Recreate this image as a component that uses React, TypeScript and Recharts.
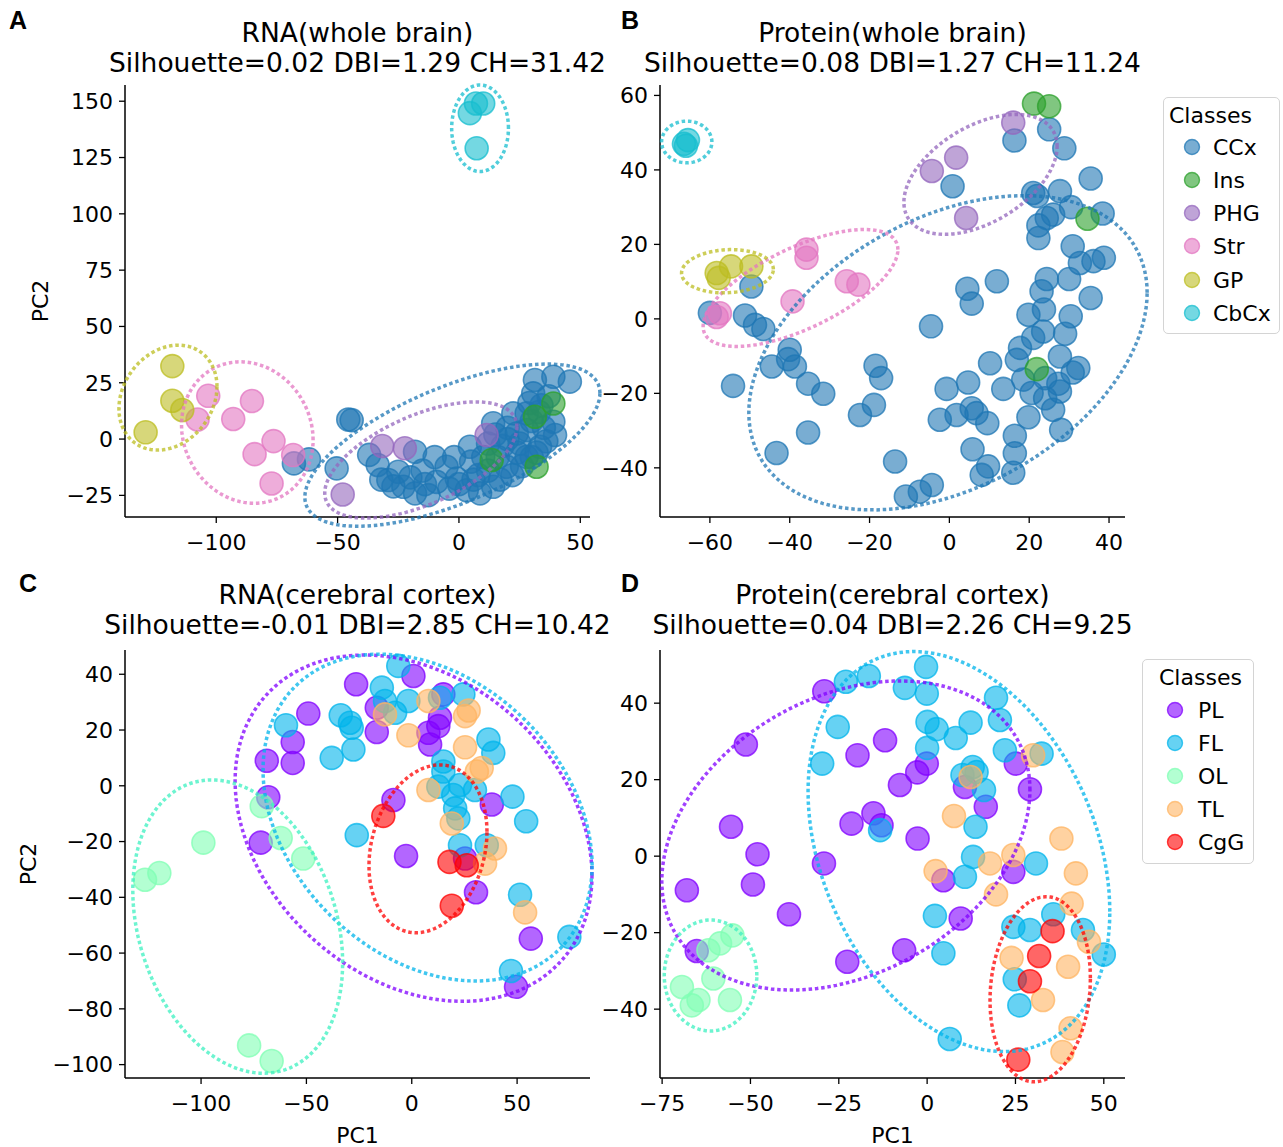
import React from "react";
import { Scatter, ScatterChart, XAxis, YAxis } from "recharts";

type Pt = [number, number];
type Ell = { cx: number; cy: number; rx: number; ry: number; s: number };

// ---- Panel A: RNA (whole brain) ----
const aCCx: Pt[] = [
  [-45.6, 8.7], [-44.2, 8.4], [-68.0, -10.8], [-61.8, -9.0], [-50.4, -13.0],
  [-33.5, -11.5], [-18.1, -5.6], [-29.1, -18.2], [-25, -14.5], [-22.9, -21.2],
  [-18.1, -24.1], [-12.6, -24.9], [-9.2, -19], [-5.1, -12.3], [-0.9, -17.5],
  [4.5, -3.4], [3.2, -22.7], [8.7, -24.1], [14.1, -21.2], [14.1, 7.0],
  [19.7, -12.3], [22.4, 11.4], [27.9, 11.4], [30.6, 20.3], [31.3, 26.2],
  [38.9, 27.7], [45.7, 25.5], [38.9, 7.7], [39.6, 1.8], [33.4, -3.4],
  [27.9, -7.9], [23.8, 2.5], [18, -3], [20, 5], [25, -2], [28, 4], [30, 8],
  [33, 12], [35, 5], [36, -1], [26, -12], [22, -16], [17, -18], [12, -14],
  [10, -8], [8, -16], [0, -20], [-4, -22], [-14, -20], [-20, -17], [-27, -21],
  [-37, -7], [-10, -8], [5, -10], [16, -8], [24, -6], [30, -8], [34, 15],
  [29, 16], [37, 19], [32, -6], [20, 0], [15, 2], [12, -2], [-2, -8],
  [-15, -14], [-32, -18], [6, -18],
];
const aIns: Pt[] = [[38.9, 15.8], [31.3, 9.9], [13.5, -9.3], [32, -12.3]];
const aPHG: Pt[] = [[-47.9, -24.6], [-31.6, -3.1], [-22.3, -4.1], [11.4, 1.8]];
const aStr: Pt[] = [
  [-103.3, 19.2], [-107.7, 8.7], [-93.0, 8.9], [-85.3, 16.9],
  [-76.4, -0.9], [-84.2, -6.7], [-68.3, -7.1], [-77.2, -19.7],
];
const aGP: Pt[] = [[-118.1, 32.4], [-118.1, 17.0], [-114.0, 12.9], [-129.1, 3.0]];
const aCbCx: Pt[] = [[4.5, 144.7], [7, 149], [10, 149], [7.3, 129.1]];
const aEll: Ell[] = [
  { cx: -2.7, cy: -2.7, rx: 60.8, ry: 36.0, s: 23.1 },
  { cx: -15.7, cy: -9.3, rx: 39.6, ry: 25.8, s: 14.7 },
  { cx: -87.2, cy: 2.9, rx: 27.1, ry: 31.4, s: -3.3 },
  { cx: -119.9, cy: 18.4, rx: 20.2, ry: 23.3, s: 4.9 },
  { cx: 8.7, cy: 138.0, rx: 11.7, ry: 19.2, s: 0 },
];

// ---- Panel B: Protein (whole brain) ----
const bCCx: Pt[] = [
  [-60, 1.6], [-49.6, 8.7], [-51.2, 0.9], [-48.7, -1.6], [-46.6, -2.7],
  [-54.2, -18], [-44.5, -12.8], [-40, -8.3], [-40.4, -10.8], [-38.7, -12.8],
  [-35.4, -17.4], [-31.6, -20.1], [-35.4, -30.5], [-43.3, -36], [-22.4, -25.8],
  [-18.9, -23.1], [-18.5, -12.6], [-17.1, -15.9], [-13.6, -38.3],
  [25, 50.9], [16.3, 47.9], [28.8, 45.8], [0.8, 35.6], [35.4, 37.7], [21, 33.8],
  [22, 33], [27.7, 34.3], [30.5, 30], [26, 28], [24.4, 27.1], [38.4, 28.3],
  [22.3, 25.1], [22.3, 21.7], [30.9, 19.5], [32.7, 15], [36.1, 15.5], [38.7, 16.4],
  [24.4, 10.7], [30, 10.7], [23.1, 7.4], [35.4, 5.6], [11.9, 10.1], [4.5, 8.1],
  [5.6, 4.1], [-4.6, -2], [19.8, 1.1], [23.7, 2.5], [30.4, 0.7], [21, -5.1],
  [23.5, -3.4], [29, -4], [17.7, -7.8], [27.7, -10.1], [10.2, -11.9], [16.9, -11],
  [32.3, -13.2], [30.9, -14.4], [18.5, -16.3], [24, -15.9], [27.3, -17.4],
  [-0.7, -18.8], [4.7, -17.1], [13.5, -18.8], [20.6, -19.9], [24, -21.3],
  [27.7, -19.5], [26, -24.4], [19.8, -26.4], [5.6, -24], [6.8, -25.3], [9.5, -28],
  [1.8, -25.8], [-2.4, -27.1], [16.4, -31.4], [16.4, -36.1], [28, -29.8],
  [5.8, -35], [9.7, -39.6], [8.1, -41.9], [16, -41.3], [-4.4, -44.6],
  [-7.4, -46.4], [-10.9, -47.7],
];
const bIns: Pt[] = [[21.2, 57.8], [25, 57.1], [34.6, 26.9], [21.9, -13.5]];
const bPHG: Pt[] = [[16, 52.7], [-4.4, 39.7], [1.7, 43.3], [4.2, 27.1]];
const bStr: Pt[] = [
  [-35.8, 18.6], [-35.8, 16.4], [-39.3, 4.7], [-25.7, 10.1], [-22.8, 9.2],
  [-58.3, 0.5], [-57.5, 1.5],
];
const bGP: Pt[] = [[-58.3, 12.3], [-57.8, 11], [-54.7, 14.1], [-49.6, 14.1]];
const bCbCx: Pt[] = [[-66.5, 47], [-65.5, 48], [-66, 46.5]];
const bEll: Ell[] = [
  { cx: -0.35, cy: -9.1, rx: 49.9, ry: 42.2, s: 16.1 },
  { cx: 7.8, cy: 38.8, rx: 19.2, ry: 16.1, s: 7.5 },
  { cx: -37.3, cy: 8.3, rx: 24.4, ry: 15.7, s: 10.3 },
  { cx: -55.6, cy: 12.8, rx: 11.5, ry: 5.8, s: 0.5 },
  { cx: -65.8, cy: 47.5, rx: 6.3, ry: 5.6, s: 0 },
];

// ---- Panel C: RNA (cerebral cortex) ----
const cPL: Pt[] = [
  [-26.4, 36.4], [-49.1, 25.9], [-56.5, 15.7], [-56.5, 8.2], [-68.8, 9.0],
  [-68.1, -4.1], [-71.7, -20.4], [0.8, 39.4], [-16.6, 28], [-16.6, 19.3],
  [13.4, 24.4], [7.9, 19], [8.7, 14.8], [-8.7, -5.1], [38, -6.7], [-2.7, -25.2],
  [25.3, -26.1], [30.5, -38.2], [56.5, -54.8], [49.5, -72.1], [15, 32.8], [12.6, 21.4],
];
const cFL: Pt[] = [
  [-59.7, 21.7], [-38, 10], [-33.7, 25.3], [-28.5, 20.8], [-27.7, 13], [-26.1, -17.7],
  [-6.4, 43], [-14.2, 35.2], [-12.7, 30.4], [-7.9, 26.2], [-1.6, 30.4], [-29.3, 22.6],
  [13.4, 31.6], [24.5, 32.8], [36.4, 16.6], [38.7, 11.8], [15, 8.7], [15, 5.1],
  [12.6, -0.3], [22.9, 0.3], [30, -1.5], [19.7, -3.3], [20.6, -8.1], [22.1, -11.7],
  [47.8, -3.9], [54.3, -12.7], [22.9, -21.3], [35.6, -21.3], [51.4, -39.1],
  [74.8, -54.2], [47.1, -66.4],
];
const cOL: Pt[] = [
  [-98.9, -20.4], [-126.6, -33.7], [-119.8, -31.3], [-71.2, -7.3], [-62.2, -18.7],
  [-51.5, -26.1], [-77.2, -93.1], [-66.5, -98.7],
];
const cTL: Pt[] = [
  [-12.7, 25.6], [-1.6, 18.1], [7.9, 30.4], [25.3, 25], [27, 27], [25.3, 13.8],
  [33.2, 6.4], [30.9, 5.1], [7.9, -1.5], [19, -13.5], [39.5, -22.5], [34.8, -27.9],
  [53.8, -45.4],
];
const cCgG: Pt[] = [[-13.5, -10.8], [17.9, -27.3], [26.1, -28.5], [19, -43]];
const cEll: Ell[] = [
  { cx: 0.85, cy: -15.2, rx: 84.7, ry: 62.1, s: -17.0 },
  { cx: 7.5, cy: -11.4, rx: 78.1, ry: 58.6, s: -17.1 },
  { cx: -82.6, cy: -50.5, rx: 49.8, ry: 52.6, s: -13.0 },
  { cx: 7.7, cy: -22.6, rx: 28.0, ry: 30.1, s: 6.1 },
];

// ---- Panel D: Protein (cerebral cortex) ----
const dPL: Pt[] = [
  [-29.1, 43.1], [-51.3, 29.2], [-55.5, 7.7], [-48, 0.5], [-49.3, -7.4], [-68, -8.9],
  [-39.1, -15.2], [-65.2, -24.8], [-22.6, -27.6], [-29.2, -1.9], [-19.7, 26.4],
  [-11.9, 30.3], [-21.4, 8.5], [-15.2, 11.2], [-12.9, 8.1], [-7.7, 18.6], [-2.8, 21.9],
  [-0.1, 24.2], [10.7, 18.1], [16.6, 12.9], [25.1, 24.2], [29.1, 17.5], [-2.7, 4.6],
  [4.6, -6.3], [24.4, -4.1], [9.5, -16.3], [-6.5, -24.6],
];
const dFL: Pt[] = [
  [-23, 45.6], [-16.5, 47.1], [-25.3, 33.8], [-29.7, 24.2], [-13.3, 6.8], [-0.3, 49.5],
  [-6.3, 44], [-0.1, 42.5], [19.5, 41.4], [20.6, 35.6], [0.1, 35.1], [2.7, 33.2],
  [8.1, 30.9], [12.3, 34.9], [0, 28.3], [22, 27.7], [32.4, 26.8], [12.9, 23.3],
  [14, 22], [10, 21.2], [16.1, 17.3], [13.7, 7.7], [13, -0.2], [10.7, -5.4],
  [30.8, -1.9], [2.2, -15.6], [4.6, -25.4], [35.7, -15.2], [24.4, -18.5],
  [29.1, -19.3], [44.1, -19.3], [50, -25.7], [24.8, -32.2], [26.1, -39], [6.4, -47.8],
];
const dOL: Pt[] = [
  [-58.6, -22.8], [-55.1, -20.7], [-60.5, -32], [-69.4, -34.2], [-64.7, -37.6],
  [-66.6, -39], [-55.8, -37.6], [-61.9, -24.6],
];
const dTL: Pt[] = [
  [7.6, 10.5], [38, 4.6], [2.4, -3.9], [17.8, -1.9], [24.4, 0.3], [42.1, -4.5],
  [19.5, -10], [40.9, -12.4], [30, 26.4], [45.8, -22.4], [23.9, -26.6], [39.9, -28.9],
  [32.8, -37.6], [40.6, -45], [38.3, -51.2], [12.3, 20.7],
];
const dCgG: Pt[] = [[35.5, -19.6], [31.7, -26.1], [29.1, -32.7], [25.8, -53.2]];
const dEll: Ell[] = [
  { cx: -23.0, cy: 5.4, rx: 52.1, ry: 40.4, s: 11.9 },
  { cx: 9.0, cy: 1.2, rx: 42.7, ry: 52.3, s: -15.7 },
  { cx: -61.3, cy: -31.2, rx: 13.1, ry: 14.5, s: 0 },
  { cx: 32.0, cy: -34.8, rx: 14.2, ry: 24.2, s: 2.9 },
];

const wholeClasses = ["CCx", "Ins", "PHG", "Str", "GP", "CbCx"];
const wholeColors = ["#1f77b4", "#2ca02c", "#9467bd", "#e377c2", "#bcbd22", "#17becf"];
const cortexClasses = ["PL", "FL", "OL", "TL", "CgG"];
const cortexColors = ["#8000ff", "#00b4eb", "#80ffb4", "#ffb462", "#ff0000"];

const FONT = "'DejaVu Sans', sans-serif";

function ellipsePath(e: Ell) {
  const vy = Math.sqrt(Math.max(e.ry * e.ry - e.s * e.s, 0));
  const pts = [];
  for (let i = 0; i <= 120; i++) {
    const t = (i / 120) * Math.PI * 2;
    pts.push({ x: e.cx + e.rx * Math.cos(t), y: e.cy + e.s * Math.cos(t) + vy * Math.sin(t) });
  }
  return pts;
}

const toXY = (pts: Pt[]) => pts.map(([x, y]) => ({ x, y }));
const fmt = (v: number) => String(v).replace("-", "\u2212");

const dot = (color: string) => (p: any) => (
  <circle cx={p.cx} cy={p.cy} r={11.5} fill={color} fillOpacity={0.6}
    stroke={color} strokeOpacity={0.75} strokeWidth={1.6} />
);

type PanelProps = {
  left: number;
  top: number;
  height: number;
  xDomain: [number, number];
  yDomain: [number, number];
  xTicks: number[];
  yTicks: number[];
  groups: Pt[][];
  colors: string[];
  ellipses: Ell[];
  ellColors: string[];
};

function Panel(p: PanelProps) {
  const tick = { fill: "#000", fontSize: 22, fontFamily: FONT };
  return (
    <div style={{ position: "absolute", left: p.left, top: p.top }}>
      <ScatterChart width={600} height={p.height} margin={{ top: 10, right: 10, bottom: 0, left: 0 }}
        style={{ overflow: "visible" }}>
        <XAxis type="number" dataKey="x" domain={p.xDomain} ticks={p.xTicks} interval={0}
          allowDataOverflow height={58} tick={tick} tickFormatter={fmt} tickSize={6} tickMargin={11}
          axisLine={{ stroke: "#000", strokeWidth: 1.5 }} tickLine={{ stroke: "#000", strokeWidth: 1.3 }} />
        <YAxis type="number" dataKey="y" domain={p.yDomain} ticks={p.yTicks} interval={0}
          allowDataOverflow width={125} tick={tick} tickFormatter={fmt} tickSize={6} tickMargin={6}
          axisLine={{ stroke: "#000", strokeWidth: 1.5 }} tickLine={{ stroke: "#000", strokeWidth: 1.3 }} />
        {p.groups.map((g, i) => (
          <Scatter key={"g" + i} data={toXY(g)} fill={p.colors[i]} shape={dot(p.colors[i])}
            isAnimationActive={false} />
        ))}
        {p.ellipses.map((e, i) => (
          <Scatter key={"e" + i} data={ellipsePath(e)} fill="none" stroke={p.ellColors[i]}
            line={{ stroke: p.ellColors[i], strokeWidth: 3.5, strokeDasharray: "3.5 2.8", strokeOpacity: 0.75 }}
            lineType="joint" shape={() => <g />} isAnimationActive={false} />
        ))}
      </ScatterChart>
    </div>
  );
}

function LegendBox({ left, top, width, height, titleX, titleY, markerX, textX, rows, names, colors }: any) {
  return (
    <div style={{
      position: "absolute", left, top, width, height, border: "1.3px solid #d4d4d4",
      borderRadius: 5, boxSizing: "border-box", background: "#fff",
    }}>
      <svg width={width} height={height} style={{ position: "absolute", left: -1, top: -1 }}>
        <text x={titleX - left} y={titleY - top} dominantBaseline="central" fontSize={22} fontFamily={FONT}>
          Classes
        </text>
        {names.map((n: string, i: number) => (
          <g key={n}>
            <circle cx={markerX - left} cy={rows[i] - top} r={7.5} fill={colors[i]} fillOpacity={0.6}
              stroke={colors[i]} strokeOpacity={0.75} strokeWidth={1.4} />
            <text x={textX - left} y={rows[i] - top} dominantBaseline="central" fontSize={22} fontFamily={FONT}>
              {n}
            </text>
          </g>
        ))}
      </svg>
    </div>
  );
}

export default function App() {
  const txt = { fontFamily: FONT, fontSize: 26.5, fill: "#000" };
  const letter = { fontFamily: "'Liberation Sans', Arial, sans-serif", fontSize: 25, fontWeight: 700 };
  return (
    <div style={{ position: "absolute", left: 0, top: 0, width: 1283, height: 1147, background: "#fff" }}>
      <style>{".recharts-wrapper g[clip-path]{clip-path:none !important} .recharts-wrapper svg{overflow:visible}"}</style>
      <Panel left={0} top={75} height={500} xDomain={[-137.6, 54.0]} yDomain={[-34.6, 157.2]}
        xTicks={[-100, -50, 0, 50]} yTicks={[-25, 0, 25, 50, 75, 100, 125, 150]}
        groups={[aCCx, aIns, aPHG, aStr, aGP, aCbCx]} colors={wholeColors}
        ellipses={aEll} ellColors={["#1f77b4", "#9467bd", "#e377c2", "#bcbd22", "#17becf"]} />
      <Panel left={535} top={75} height={500} xDomain={[-72.5, 44.0]} yDomain={[-53.2, 62.8]}
        xTicks={[-60, -40, -20, 0, 20, 40]} yTicks={[-40, -20, 0, 20, 40, 60]}
        groups={[bCCx, bIns, bPHG, bStr, bGP, bCbCx]} colors={wholeColors}
        ellipses={bEll} ellColors={["#1f77b4", "#9467bd", "#e377c2", "#bcbd22", "#17becf"]} />
      <Panel left={0} top={640} height={496} xDomain={[-136.1, 84.6]} yDomain={[-104.8, 48.7]}
        xTicks={[-100, -50, 0, 50]} yTicks={[-100, -80, -60, -40, -20, 0, 20, 40]}
        groups={[cPL, cFL, cOL, cTL, cCgG]} colors={cortexColors}
        ellipses={cEll} ellColors={["#8000ff", "#00b4eb", "#3cf0c0", "#ff0000"]} />
      <Panel left={535} top={640} height={496} xDomain={[-75.6, 56.0]} yDomain={[-58.0, 53.9]}
        xTicks={[-75, -50, -25, 0, 25, 50]} yTicks={[-40, -20, 0, 20, 40]}
        groups={[dPL, dFL, dOL, dTL, dCgG]} colors={cortexColors}
        ellipses={dEll} ellColors={["#8000ff", "#00b4eb", "#3cf0c0", "#ff0000"]} />

      <LegendBox left={1163} top={97} width={117} height={237} titleX={1169} titleY={115}
        markerX={1192} textX={1213} rows={[147, 180, 213, 246, 280, 313]}
        names={wholeClasses} colors={wholeColors} />
      <LegendBox left={1142} top={659} width={112} height={205} titleX={1159} titleY={677}
        markerX={1175} textX={1198} rows={[710, 743, 776, 809, 842]}
        names={cortexClasses} colors={cortexColors} />

      <svg width={1283} height={1147} style={{ position: "absolute", left: 0, top: 0, pointerEvents: "none" }}>
        <text x={18} y={29} textAnchor="middle" {...letter}>A</text>
        <text x={630} y={29} textAnchor="middle" {...letter}>B</text>
        <text x={28} y={592} textAnchor="middle" {...letter}>C</text>
        <text x={630} y={592} textAnchor="middle" {...letter}>D</text>

        <text x={357.5} y={42} textAnchor="middle" {...txt}>RNA(whole brain)</text>
        <text x={357.5} y={72} textAnchor="middle" {...txt}>Silhouette=0.02 DBI=1.29 CH=31.42</text>
        <text x={892.5} y={42} textAnchor="middle" {...txt}>Protein(whole brain)</text>
        <text x={892.5} y={72} textAnchor="middle" {...txt}>Silhouette=0.08 DBI=1.27 CH=11.24</text>
        <text x={357.5} y={604} textAnchor="middle" {...txt}>RNA(cerebral cortex)</text>
        <text x={357.5} y={634} textAnchor="middle" {...txt}>Silhouette=-0.01 DBI=2.85 CH=10.42</text>
        <text x={892.5} y={604} textAnchor="middle" {...txt}>Protein(cerebral cortex)</text>
        <text x={892.5} y={634} textAnchor="middle" {...txt}>Silhouette=0.04 DBI=2.26 CH=9.25</text>

        <text x={40} y={301} textAnchor="middle" dominantBaseline="central" transform="rotate(-90 40 301)"
          fontFamily={FONT} fontSize={22}>PC2</text>
        <text x={28} y={864} textAnchor="middle" dominantBaseline="central" transform="rotate(-90 28 864)"
          fontFamily={FONT} fontSize={22}>PC2</text>
        <text x={357.5} y={1135} textAnchor="middle" dominantBaseline="central" fontFamily={FONT} fontSize={22}>PC1</text>
        <text x={892.5} y={1135} textAnchor="middle" dominantBaseline="central" fontFamily={FONT} fontSize={22}>PC1</text>
      </svg>
    </div>
  );
}
